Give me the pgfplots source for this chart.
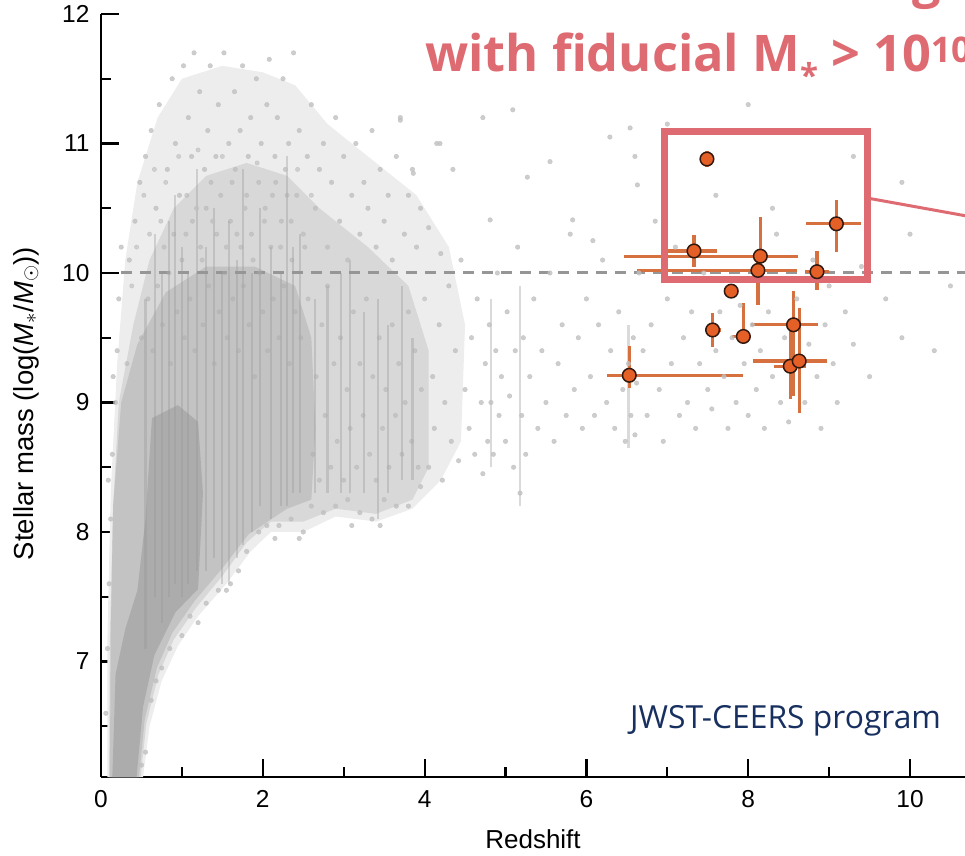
\documentclass[border=0pt]{standalone}
\usepackage{pgfplots}
\pgfplotsset{compat=1.18}
\usepackage{pgfplotstable}
\usepackage{fontspec}
\setmainfont{Liberation Sans}
\newfontfamily\osans{Open Sans}
\definecolor{pinkc}{RGB}{222,107,114}
\definecolor{navy}{RGB}{24,48,96}
\definecolor{orfill}{RGB}{228,96,38}
\definecolor{orbar}{RGB}{214,112,62}
\definecolor{dashgray}{RGB}{150,150,150}
\definecolor{edgebrown}{RGB}{50,25,15}
\definecolor{g1}{RGB}{237,237,237}
\definecolor{g2}{RGB}{216,216,216}
\definecolor{g3}{RGB}{195,195,195}
\definecolor{g4}{RGB}{172,172,172}
\definecolor{dotgray}{RGB}{192,192,192}
\definecolor{texgray}{RGB}{172,172,172}
\definecolor{streakgray}{RGB}{150,150,150}

\pgfplotstableread{
x y exp exm eyp eym
7.49 10.88 0.06 0.06 0.06 0.06
7.33 10.17 0.28 0.32 0.12 0.12
8.15 10.13 0.46 1.69 0.30 0.10
8.12 10.02 0.48 1.50 0.08 0.27
8.85 10.01 0.15 0.15 0.16 0.14
9.09 10.38 0.31 0.38 0.18 0.22
7.79 9.86 0.05 0.05 0.05 0.05
7.56 9.56 0.10 0.10 0.13 0.13
7.94 9.51 0.10 0.14 0.26 0.05
8.56 9.60 0.30 0.52 0.26 0.55
8.52 9.28 0.20 0.20 0.30 0.25
8.63 9.32 0.35 0.57 0.41 0.40
6.53 9.21 1.41 0.28 0.23 0.10
}\candidates

\pgfplotstableread{
x y
0.55 7.1
0.55 9.8
nan nan
0.67 7.5
0.67 10.3
nan nan
0.75 7.3
0.75 10.0
nan nan
0.84 7.5
0.84 10.4
nan nan
0.91 7.6
0.91 10.6
nan nan
1.00 7.5
1.00 10.2
nan nan
1.08 7.6
1.08 10.0
nan nan
1.19 7.7
1.19 10.8
nan nan
1.30 7.7
1.30 10.2
nan nan
1.40 7.8
1.40 10.5
nan nan
1.50 7.6
1.50 10.0
nan nan
1.58 7.6
1.58 10.4
nan nan
1.68 7.8
1.68 10.1
nan nan
1.76 7.9
1.76 10.8
nan nan
1.87 8.0
1.87 10.0
nan nan
1.97 8.2
1.97 10.5
nan nan
2.10 8.1
2.10 10.2
nan nan
2.22 8.2
2.22 10.0
nan nan
2.30 8.2
2.30 10.9
nan nan
2.37 8.3
2.37 10.2
nan nan
2.46 8.3
2.46 10.3
nan nan
2.65 8.3
2.65 9.8
nan nan
2.80 8.3
2.80 9.9
nan nan
2.97 8.3
2.97 10.0
nan nan
3.08 8.3
3.08 10.1
nan nan
3.25 8.3
3.25 9.7
nan nan
3.42 8.1
3.42 9.8
nan nan
3.55 8.3
3.55 9.6
nan nan
3.72 8.4
3.72 9.9
nan nan
3.85 8.4
3.85 9.5
nan nan
4.82 8.5
4.82 9.8
nan nan
5.18 8.2
5.18 9.9
nan nan
6.52 8.65
6.52 9.6
}\streaks

\begin{document}
\begin{tikzpicture}
\useasboundingbox (0pt,0pt) rectangle (965pt,855pt);
\clip (0pt,0pt) rectangle (965pt,855pt);
\begin{axis}[
  at={(101pt,78pt)}, anchor=south west, scale only axis,
  width=889.9pt, height=763pt,
  xmin=0, xmax=11, ymin=6.108, ymax=12,
  enlargelimits=false,
  axis lines=left, axis line style={-, line width=2.6pt, black},
  tick align=inside,
  xtick={0,2,...,10}, minor xtick={1,3,...,11},
  ytick={7,8,...,12}, minor ytick={6.5,7.5,...,11.5},
  major tick length=18pt, minor tick length=10pt,
  every tick/.style={black, line width=2.2pt},
  tick label style={font=\fontsize{24.5}{24.5}\selectfont},
  /pgf/number format/assume math mode=true,
  xticklabel style={yshift=-10pt},
  yticklabel style={xshift=-8pt},
  unbounded coords=jump,
]
% density layers of the background galaxy cloud
\addplot[fill=g1, draw=none] coordinates {
(0.08,6.108) (0.52,6.108) (0.6,6.5) (0.75,6.85) (0.95,7.12) (1.2,7.35) (1.55,7.6) (1.85,7.85) (2.1,8.0) (2.5,8.0) (2.9,8.12) (3.4,8.08) (3.85,8.18) (4.2,8.4) (4.45,8.7) (4.5,9.6) (4.3,10.2) (3.9,10.6) (3.3,10.9) (2.8,11.15) (2.4,11.45) (2.0,11.55) (1.5,11.6) (1.0,11.5) (0.7,11.2) (0.45,10.7) (0.3,10.1) (0.2,9.3) (0.12,8.3) (0.08,7.2)
} -- cycle;
\addplot[fill=g2, draw=none] coordinates {
(0.1,6.108) (0.49,6.108) (0.56,6.52) (0.71,6.9) (0.9,7.17) (1.18,7.42) (1.5,7.66) (1.8,7.92) (2.1,8.08) (2.5,8.08) (2.9,8.18) (3.4,8.14) (3.85,8.25) (4.05,8.5) (4.05,9.4) (3.8,9.9) (3.3,10.2) (2.7,10.5) (2.3,10.75) (1.8,10.85) (1.3,10.75) (0.9,10.5) (0.6,10.1) (0.4,9.6) (0.22,9.0) (0.15,8.2) (0.11,7.2)
} -- cycle;
\addplot[fill=g3, draw=none] coordinates {
(0.11,6.108) (0.47,6.108) (0.54,6.55) (0.69,6.95) (0.88,7.22) (1.16,7.47) (1.5,7.72) (1.82,7.98) (2.3,8.18) (2.6,8.25) (2.65,8.8) (2.6,9.5) (2.4,9.9) (1.9,10.05) (1.3,10.05) (0.8,9.85) (0.45,9.45) (0.25,9.0) (0.15,8.2) (0.12,7.2)
} -- cycle;
\addplot[fill=g4, draw=none] coordinates {
(0.14,6.108) (0.44,6.108) (0.52,6.65) (0.66,7.05) (0.92,7.38) (1.2,7.56) (1.26,8.3) (1.2,8.85) (0.95,8.98) (0.63,8.88) (0.55,8.1) (0.45,7.55) (0.3,7.25) (0.18,6.9)
} -- cycle;
% streaks
\addplot[draw=streakgray, line width=2.2pt, opacity=0.35] table {\streaks};
% texture dots inside the cloud
\addplot[color=texgray, only marks, mark=*, mark size=2.2pt, opacity=0.45] coordinates {
(0.32,9.3) (0.38,9.9) (0.44,10.2) (0.5,9.5) (0.53,10.6) (0.58,9.8) (0.6,10.3) (0.64,9.4) (0.66,10.8) (0.7,9.9) (0.74,10.4) (0.76,9.6) (0.8,10.7) (0.84,10.0) (0.86,9.3) (0.9,10.3) (0.94,9.7) (0.96,10.9) (1.0,10.1) (1.03,9.5) (1.06,10.6) (1.1,9.8) (1.13,10.4) (1.16,9.4) (1.2,10.95) (1.23,10.2) (1.26,9.6) (1.3,10.5) (1.33,9.9) (1.36,10.7) (1.4,9.3) (1.43,10.3) (1.46,9.7) (1.5,10.9) (1.53,10.0) (1.56,9.5) (1.6,10.4) (1.63,9.8) (1.66,10.8) (1.7,9.4) (1.73,10.2) (1.76,9.9) (1.8,10.6) (1.83,9.6) (1.86,10.3) (1.9,9.2) (1.93,10.85) (1.96,10.0) (2.0,9.7) (2.03,10.5) (2.06,9.4) (2.1,10.2) (2.13,9.8) (2.16,10.7) (2.2,9.5) (2.23,10.4) (2.26,9.9) (2.3,10.6) (2.33,9.3) (2.36,10.1) (2.4,9.7) (2.43,10.8) (2.47,9.5) (2.52,10.2) (2.56,9.8) (2.6,10.6)
(2.62,8.6) (2.66,9.2) (2.7,8.4) (2.73,9.6) (2.77,8.9) (2.8,9.9) (2.84,8.5) (2.88,9.3) (2.92,8.7) (2.96,9.5) (3.0,8.4) (3.04,9.1) (3.08,8.8) (3.12,9.7) (3.16,8.5) (3.2,9.3) (3.24,8.9) (3.28,9.8) (3.32,8.6) (3.36,9.2) (3.4,8.4) (3.44,9.5) (3.48,8.8) (3.52,9.1) (3.56,8.5) (3.6,9.6) (3.64,8.9) (3.68,9.3) (3.72,8.6) (3.76,9.0) (3.8,9.7) (3.84,8.7) (3.88,9.4) (3.92,8.5) (3.96,9.1) (4.0,9.8)
};
% scattered galaxies
\addplot[color=dotgray, only marks, mark=*, mark size=2.3pt, opacity=0.8] coordinates {
(0.35,10.1) (0.42,10.4) (0.48,10.7) (0.55,10.9) (0.62,11.1) (0.68,10.5) (0.72,11.3) (0.78,10.2) (0.82,10.8) (0.88,11.5) (0.92,11.0) (0.97,10.6) (1.02,11.6) (1.05,10.3) (1.08,11.2) (1.12,10.9) (1.15,11.7) (1.18,10.5) (1.22,11.4) (1.25,10.1) (1.28,10.8) (1.32,11.1) (1.35,11.6) (1.38,10.4) (1.42,10.9) (1.45,11.3) (1.48,10.6) (1.52,11.7) (1.55,10.2) (1.58,11.0) (1.62,10.7) (1.65,11.4) (1.68,10.3) (1.72,11.1) (1.75,11.6) (1.78,10.5) (1.82,10.9) (1.85,11.2) (1.88,10.1) (1.92,11.5) (1.95,10.7) (1.98,11.0) (2.02,10.4) (2.05,11.3) (2.08,11.65) (2.12,10.6) (2.15,10.9) (2.18,11.2) (2.22,10.2) (2.25,11.5) (2.28,10.8) (2.32,11.0) (2.35,10.4) (2.38,11.7) (2.42,10.6) (2.45,11.1) (2.5,10.3) (2.55,10.9) (2.6,11.3) (2.65,10.5) (2.7,10.8) (2.75,11.0) (2.8,10.2) (2.85,10.7) (2.9,11.2) (2.95,10.4) (3.0,10.9) (3.05,10.1) (3.1,10.6) (3.15,11.0) (3.2,10.3) (3.25,10.7) (3.3,10.5) (3.35,11.1) (3.4,10.2) (3.45,10.8) (3.5,10.4) (3.55,10.6) (3.6,10.1) (3.65,10.9) (3.7,11.2) (3.75,10.3) (3.8,10.6) (3.85,10.8) (3.9,10.2) (3.95,10.5) (4.05,10.35) (4.15,11.0) (4.2,10.15)
(4.05,8.5) (4.1,9.2) (4.12,8.8) (4.18,9.6) (4.22,8.4) (4.25,9.0) (4.3,9.9) (4.33,8.7) (4.38,9.4) (4.42,8.55) (4.45,10.1) (4.5,9.1) (4.55,8.8) (4.58,9.5) (4.62,8.6) (4.65,9.8) (4.7,9.0) (4.72,8.45) (4.75,9.3) (4.78,8.7) (4.8,9.6) (4.82,9.0) (4.85,8.6) (4.88,9.4) (4.9,10.0) (4.92,8.9) (4.95,9.2) (5.0,8.7) (5.02,9.7) (5.05,9.05) (5.1,8.5) (5.12,9.4) (5.15,10.2) (5.18,8.3) (5.2,8.9) (5.22,9.5) (5.25,8.6) (5.3,9.2) (5.35,9.8) (5.4,8.8) (5.45,9.4) (5.5,9.0) (5.55,10.0) (5.6,8.7) (5.65,9.3) (5.7,9.6) (5.75,8.9) (5.8,10.3) (5.85,9.1) (5.9,9.5) (5.95,8.8) (6.0,9.8) (6.05,9.2) (6.1,8.9) (6.15,9.6) (6.2,10.1) (6.25,9.0) (6.3,9.4) (6.35,8.8) (6.4,9.7) (6.45,9.1) (6.48,8.7) (6.52,9.3) (6.55,8.9) (6.58,9.5) (6.6,8.75) (6.62,9.15) (6.65,10.0) (6.7,9.4)
(6.75,8.9) (6.8,9.6) (6.85,10.4) (6.9,9.1) (6.95,8.7) (7.0,9.8) (7.05,9.3) (7.1,10.2) (7.15,8.9) (7.2,9.5) (7.25,9.0) (7.3,9.7) (7.35,8.8) (7.4,9.3) (7.45,10.0) (7.5,9.1) (7.55,8.95) (7.6,9.4) (7.65,9.7) (7.7,9.2) (7.75,8.8) (7.8,9.5) (7.85,9.0) (7.9,9.75) (7.95,9.3) (8.0,8.9) (8.05,9.6) (8.1,9.1) (8.15,9.4) (8.2,8.8) (8.25,9.7) (8.3,9.2) (8.35,10.3) (8.4,9.0) (8.45,9.5) (8.5,8.85) (8.6,9.8) (8.7,9.0) (8.75,9.45) (8.8,10.1) (8.85,9.2) (8.9,8.8) (8.95,9.6) (9.0,9.9) (9.05,9.3) (9.1,9.0) (9.2,9.7) (9.3,9.45) (9.4,10.05) (9.5,9.2) (9.7,9.8) (9.9,9.5) (10.0,10.3) (10.3,9.4) (10.5,9.9)
(7.6,10.6) (8.3,10.5) (9.3,10.9) (6.6,10.9) (7.0,11.15) (8.0,11.3) (9.9,10.7)
(4.19,11.0) (4.35,10.8) (4.72,11.2) (5.09,11.26) (5.27,10.74) (5.55,10.86) (5.83,10.41) (4.81,10.41) (6.08,10.25) (6.29,11.05) (6.54,11.12) (6.63,10.68) (3.86,10.77) (3.7,11.18)
(0.62,6.7) (0.75,6.95) (0.85,7.1) (1.0,7.2) (1.1,7.35) (1.3,7.45) (1.45,7.55) (1.6,7.6) (1.7,7.7) (1.8,7.85) (1.95,8.0) (2.05,8.05) (2.2,8.05) (2.35,8.1) (2.45,7.95) (2.6,8.2) (2.75,8.15) (2.9,8.2) (3.05,8.25) (3.2,8.15) (3.35,8.1) (3.5,8.25) (3.65,8.2) (3.8,8.2) (3.95,8.35) (0.55,6.3) (0.5,6.2) (0.68,6.85) (1.2,7.3) (1.55,7.55) (2.15,7.95) (2.5,8.0) (3.1,8.05) (3.45,8.05)
(0.06,6.6) (0.08,7.1) (0.1,7.6) (0.12,8.1) (0.14,8.6) (0.18,9.0) (0.2,9.4) (0.22,9.8) (0.25,10.2) (0.15,9.2) (0.09,8.4)
};
% 10^10 threshold
\addplot[dashgray, line width=3pt, dash pattern=on 11pt off 8pt] coordinates {(0.25,10) (11,10)};
% candidate galaxies
\addplot[draw=none, mark=none, forget plot,
  error bars/.cd, x dir=both, x explicit, y dir=both, y explicit,
  error mark=none, error bar style={orbar, line width=3.2pt}]
  table[x=x, y=y, x error plus=exp, x error minus=exm, y error plus=eyp, y error minus=eym] {\candidates};
\addplot[only marks, mark=*, mark size=6.8pt, mark options={fill=orfill, draw=edgebrown, line width=1.5pt}]
  table[x=x, y=y] {\candidates};
\draw[pinkc, line width=7pt] (axis cs:6.97,9.946) rectangle (axis cs:9.47,11.09);
\end{axis}
\draw[pinkc, line width=3pt] (867pt,657pt) -- (1000pt,633pt);
\node[anchor=base, inner sep=0pt, font=\fontsize{26}{26}\selectfont] at (533pt,7pt) {Redshift};
\node[anchor=base, rotate=90, inner sep=0pt, font=\fontsize{27.5}{27.5}\selectfont] at (33pt,451.5pt) {Stellar mass (log(\textit{M}\textsubscript{$\ast$}/\textit{M}\textsubscript{$\odot$}))};
\node[anchor=base west, inner sep=0pt, text=navy, font=\osans\fontsize{31.8}{32}\selectfont] at (630pt,127pt) {JWST-CEERS program};
\node[anchor=base west, inner sep=0pt, text=pinkc, font=\osans\bfseries\fontsize{50.5}{60}\selectfont] at (425pt,783pt) {with fiducial M\raisebox{-16pt}{\fontsize{33}{33}\selectfont *} > 10\textsuperscript{10} M};
\node[anchor=base west, inner sep=0pt, text=pinkc, font=\osans\bfseries\fontsize{50.5}{60}\selectfont] at (912pt,857pt) {galaxies};
\end{tikzpicture}
\end{document}
